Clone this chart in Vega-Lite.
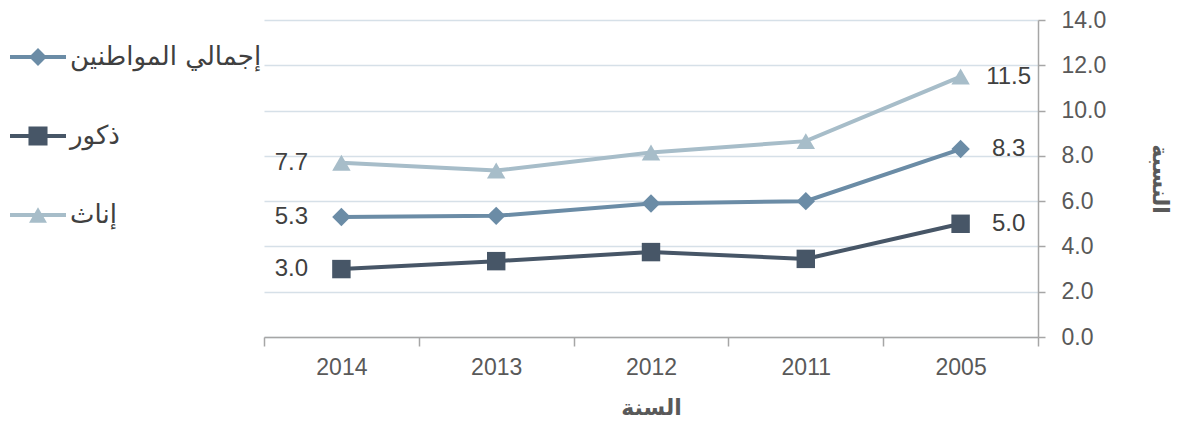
{
  "$schema": "https://vega.github.io/schema/vega-lite/v6.json",
  "width": 774,
  "height": 317,
  "autosize": {"type": "none"},
  "padding": {"left": 264, "top": 20, "right": 139, "bottom": 87},
  "background": "white",
  "config": {"view": {"stroke": null}, "font": "Liberation Sans, DejaVu Sans"},
  "data": {"values": [
    {"year": "2014", "series": "إجمالي المواطنين", "value": 5.3},
    {"year": "2013", "series": "إجمالي المواطنين", "value": 5.35},
    {"year": "2012", "series": "إجمالي المواطنين", "value": 5.9},
    {"year": "2011", "series": "إجمالي المواطنين", "value": 6.0},
    {"year": "2005", "series": "إجمالي المواطنين", "value": 8.3},
    {"year": "2014", "series": "ذكور", "value": 3.0},
    {"year": "2013", "series": "ذكور", "value": 3.35},
    {"year": "2012", "series": "ذكور", "value": 3.75},
    {"year": "2011", "series": "ذكور", "value": 3.45},
    {"year": "2005", "series": "ذكور", "value": 5.0},
    {"year": "2014", "series": "إناث", "value": 7.7},
    {"year": "2013", "series": "إناث", "value": 7.35},
    {"year": "2012", "series": "إناث", "value": 8.15},
    {"year": "2011", "series": "إناث", "value": 8.65},
    {"year": "2005", "series": "إناث", "value": 11.5}
  ]},
  "encoding": {
    "x": {
      "field": "year", "type": "ordinal",
      "sort": ["2014", "2013", "2012", "2011", "2005"],
      "scale": {"type": "band", "paddingInner": 0, "paddingOuter": 0},
      "axis": {
        "tickBand": "extent", "labelAngle": 0, "grid": false,
        "domainColor": "#a6a6a6", "domainWidth": 1.5, "tickColor": "#a6a6a6", "tickWidth": 1.5, "tickSize": 9,
        "labelFont": "Liberation Sans Narrow, Liberation Sans", "labelFontSize": 23, "labelColor": "#595959", "labelPadding": 10,
        "title": "السنة", "titleFontSize": 22, "titleFontWeight": "bold", "titleColor": "#595959", "titlePadding": 18
      }
    },
    "y": {
      "field": "value", "type": "quantitative",
      "scale": {"domain": [0, 14]},
      "axis": {
        "orient": "right", "values": [0, 2, 4, 6, 8, 10, 12, 14], "format": ".1f",
        "grid": true, "gridColor": "#d6e0e8", "gridWidth": 1.5,
        "domainColor": "#a6a6a6", "domainWidth": 1.5, "tickColor": "#a6a6a6", "tickWidth": 1.5, "tickSize": 7,
        "labelFontSize": 23, "labelColor": "#595959", "labelPadding": 16,
        "title": "النسبة", "titleFontSize": 22, "titleFontWeight": "bold", "titleColor": "#595959", "titlePadding": 42, "titleAngle": 90
      }
    }
  },
  "layer": [
    {
      "mark": {"type": "line", "strokeWidth": 4},
      "encoding": {
        "color": {"field": "series", "type": "nominal",
          "scale": {"domain": ["إجمالي المواطنين", "ذكور", "إناث"], "range": ["#6b8ca6", "#475667", "#a7bdc9"]},
          "legend": null}
      }
    },
    {
      "mark": {"type": "point", "filled": true, "opacity": 1, "size": 340},
      "encoding": {
        "color": {"field": "series", "type": "nominal",
          "scale": {"domain": ["إجمالي المواطنين", "ذكور", "إناث"], "range": ["#6b8ca6", "#475667", "#a7bdc9"]},
          "legend": null},
        "shape": {"field": "series", "type": "nominal",
          "scale": {"domain": ["إجمالي المواطنين", "ذكور", "إناث"], "range": ["diamond", "square", "triangle-up"]},
          "legend": null}
      }
    },
    {
      "transform": [{"filter": "datum.year == '2014'"}],
      "mark": {"type": "text", "dx": -50, "fontSize": 24, "color": "#404040", "align": "center", "baseline": "middle"},
      "encoding": {"text": {"field": "value", "type": "quantitative", "format": ".1f"}}
    },
    {
      "transform": [{"filter": "datum.year == '2005'"}],
      "mark": {"type": "text", "dx": 48, "fontSize": 24, "color": "#404040", "align": "center", "baseline": "middle"},
      "encoding": {"text": {"field": "value", "type": "quantitative", "format": ".1f"}}
    },
    {
      "transform": [{"filter": "datum.year == 'none'"}],
      "mark": {"type": "point", "filled": true, "opacity": 1},
      "encoding": {
        "color": {"field": "series", "type": "nominal",
          "scale": {"domain": ["إجمالي المواطنين", "ذكور", "إناث"], "range": ["#6b8ca6", "#475667", "#a7bdc9"]},
          "legend": {"orient": "none", "legendX": -254, "legendY": 9, "title": null,
            "symbolSize": 3136, "symbolStrokeWidth": 0, "symbolOpacity": 1,
            "labelFont": "DejaVu Sans", "labelFontSize": 26, "labelColor": "#404040", "labelOffset": 4, "labelLimit": 0, "rowPadding": 38}},
        "shape": {"field": "series", "type": "nominal",
          "scale": {"domain": ["إجمالي المواطنين", "ذكور", "إناث"], "range": [
            "M-1,-0.07H1V0.07H-1Z M0,-0.32L0.32,0L0,0.32L-0.32,0Z",
            "M-1,-0.07H1V0.07H-1Z M-0.34,-0.34H0.34V0.34H-0.34Z",
            "M-1,-0.07H1V0.07H-1Z M0,-0.28L0.32,0.28H-0.32Z"
          ]},
          "legend": {"orient": "none", "legendX": -254, "legendY": 9, "title": null,
            "symbolSize": 3136, "symbolStrokeWidth": 0, "symbolOpacity": 1,
            "labelFont": "DejaVu Sans", "labelFontSize": 26, "labelColor": "#404040", "labelOffset": 4, "labelLimit": 0, "rowPadding": 38}}
      }
    }
  ],
  "resolve": {"scale": {"color": "independent", "shape": "independent"}}
}
